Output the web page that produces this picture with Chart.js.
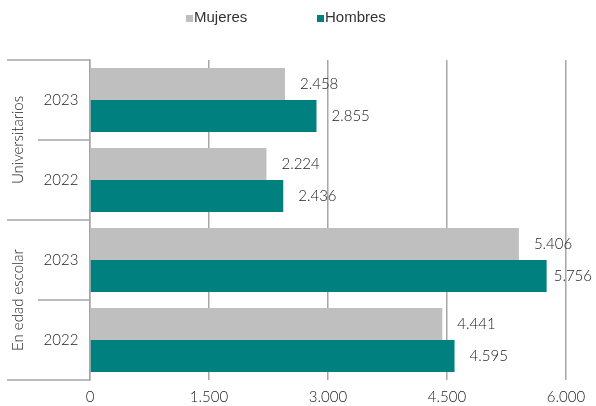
<!DOCTYPE html>
<html>
<head>
<meta charset="utf-8">
<script src="https://cdn.jsdelivr.net/npm/chart.js@4"></script>
<style>
  html, body { margin: 0; padding: 0; background: #fff; }
  #wrap { width: 596px; height: 406px; }
</style>
</head>
<body>
<div id="wrap"><canvas id="chart"></canvas></div>
<script>
const years = ["2023", "2022", "2023", "2022"];
const groups = ["Universitarios", "En edad escolar"];
const mujeres = [2458, 2224, 5406, 4441];
const hombres = [2855, 2436, 5756, 4595];
const xTicks = [0, 1500, 3000, 4500, 6000];

const lineColor = "#a6a6a6";
const textColor = "#222";
const labelFont = "300 15px Lato, 'Noto Sans', sans-serif";

function fmt(v) {
  return String(v).replace(/\B(?=(\d{3})+(?!\d))/g, ".");
}

// legend, year / group labels and value labels
const decorations = {
  id: "decorations",
  afterDraw(chart) {
    const c = chart.ctx;
    const area = chart.chartArea;
    const y = chart.scales.y;
    const step = y.getPixelForValue(1) - y.getPixelForValue(0);

    c.save();
    // legend
    c.font = "15px 'Liberation Sans', Arial, sans-serif";
    c.textBaseline = "middle";
    c.textAlign = "left";
    const legend = [["Mujeres", "#bfbfbf", 186], ["Hombres", "#00807f", 317]];
    legend.forEach(([txt, col, x]) => {
      c.fillStyle = col;
      c.fillRect(x, 15, 7, 7);
      c.fillStyle = "#333";
      c.fillText(txt, x + 8, 18);
    });

    // category axis
    c.strokeStyle = lineColor;
    c.lineWidth = 1.5;
    c.font = labelFont;
    c.fillStyle = textColor;
    c.textAlign = "center";
    years.forEach((yr, i) => {
      const cy = y.getPixelForValue(i);
      c.fillText(yr, 61, cy);
      const top = cy - step / 2;
      c.beginPath();
      c.moveTo(i % 2 === 0 ? 7 : 38, top);
      c.lineTo(area.left, top);
      c.stroke();
    });
    c.beginPath();
    c.moveTo(7, area.bottom);
    c.lineTo(area.left, area.bottom);
    c.stroke();

    groups.forEach((g, gi) => {
      const cy = (y.getPixelForValue(gi * 2) + y.getPixelForValue(gi * 2 + 1)) / 2;
      c.save();
      c.translate(18, cy);
      c.rotate(-Math.PI / 2);
      c.fillText(g, 0, 0);
      c.restore();
    });

    // value labels, kept inside the canvas
    c.textAlign = "left";
    chart.data.datasets.forEach((ds, di) => {
      chart.getDatasetMeta(di).data.forEach((bar, i) => {
        const txt = fmt(ds.data[i]);
        const w = c.measureText(txt).width;
        const x = Math.min(bar.x + 15, chart.width - w - 4);
        c.fillText(txt, x, bar.y);
      });
    });
    c.restore();
  }
};

new Chart(document.getElementById("chart"), {
  type: "bar",
  data: {
    labels: years,
    datasets: [
      { label: "Mujeres", data: mujeres, backgroundColor: "#bfbfbf" },
      { label: "Hombres", data: hombres, backgroundColor: "#00807f" }
    ]
  },
  options: {
    indexAxis: "y",
    responsive: true,
    maintainAspectRatio: false,
    animation: false,
    datasets: { bar: { categoryPercentage: 0.8, barPercentage: 1.0 } },
    layout: { padding: { top: 60, right: 30, left: 0, bottom: 0 } },
    plugins: { legend: { display: false }, tooltip: { enabled: false } },
    scales: {
      x: {
        min: 0,
        max: 6000,
        afterBuildTicks: s => { s.ticks = xTicks.map(v => ({ value: v })); },
        afterFit: s => { s.height = 26; },
        grid: { color: lineColor, lineWidth: 1.5, drawTicks: false },
        border: { display: false },
        ticks: {
          padding: 8,
          color: textColor,
          font: { family: "Lato, 'Noto Sans', sans-serif", size: 15, weight: "300" },
          callback: v => fmt(v)
        }
      },
      y: {
        afterFit: s => { s.width = 90; },
        grid: { display: false },
        border: { display: true, color: lineColor, width: 1.5 },
        ticks: { display: false }
      }
    }
  },
  plugins: [decorations]
});
</script>
</body>
</html>
